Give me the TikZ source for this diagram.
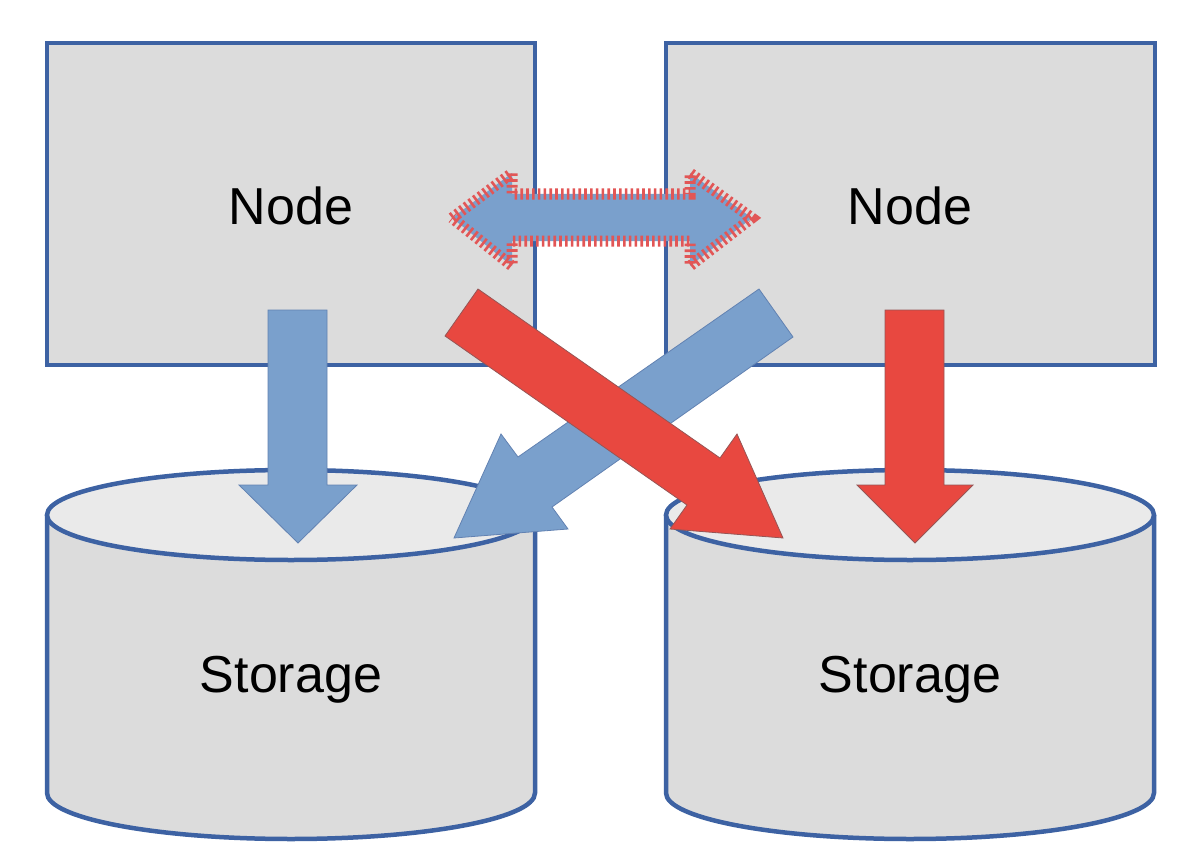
\documentclass[tikz,border=0pt]{standalone}
\usepackage{fontspec}
\setmainfont{Liberation Sans}
\definecolor{edgeblue}{RGB}{61,98,163}
\definecolor{boxgray}{RGB}{220,220,220}
\definecolor{topgray}{RGB}{234,234,234}
\definecolor{arrblue}{RGB}{122,160,204}
\definecolor{arrblueline}{RGB}{98,130,178}
\definecolor{arrred}{RGB}{232,72,64}
\definecolor{arrredline}{RGB}{150,85,85}
\definecolor{hatchred}{RGB}{226,86,86}
\tikzset{
  box/.style={draw=edgeblue, fill=boxgray, line width=4.5pt},
  lbl/.style={font=\fontsize{52}{60}\selectfont, text=black},
  bluearrow/.style={fill=arrblue, draw=arrblueline, line width=0.8pt, line join=miter},
  redarrow/.style={fill=arrred, draw=arrredline, line width=0.8pt, line join=miter},
}
\newcommand{\cylinder}[2]{%
  % #1 = center x, #2 = name
  \fill[boxgray] (#1-244,515) -- (#1-244,793) arc[start angle=180,end angle=0,x radius=244,y radius=46] -- (#1+244,515) -- cycle;
  \draw[edgeblue, line width=4.5pt] (#1-244,515) -- (#1-244,793) arc[start angle=180,end angle=0,x radius=244,y radius=46] -- (#1+244,515);
  \draw[edgeblue, fill=topgray, line width=4.5pt] (#1,515) ellipse[x radius=244, y radius=45];
  \node[lbl] (#2) at (#1,680) {Storage};
}
\begin{document}
\begin{tikzpicture}[x=1pt,y=-1pt]
\useasboundingbox (0,0) rectangle (1200,864);
\fill[white] (0,0) rectangle (1200,864);

% node boxes
\draw[box] (47,43) rectangle (535,365);
\node[lbl] (nodeL) at (291,206) {Node};
\draw[box] (666,43) rectangle (1155,365);
\node[lbl] (nodeR) at (910,206) {Node};

% storage cylinders
\cylinder{291}{storL}
\cylinder{910}{storR}

% straight down arrows
\draw[bluearrow] (268,310) -- (327,310) -- (327,485) -- (357,485) -- (298,543) -- (239,485) -- (268,485) -- cycle;
\draw[redarrow] (885,310) -- (944,310) -- (944,485) -- (973,485) -- (915,543) -- (857,485) -- (885,485) -- cycle;

% diagonal arrows
\draw[bluearrow] (759,289) -- (518,457) -- (501,434) -- (454,538) -- (568,529) -- (552,507) -- (793,337) -- cycle;
\draw[redarrow] (478,289) -- (720,458) -- (737,434) -- (783,538) -- (670,529) -- (687,505) -- (445,336) -- cycle;

% double arrow with hatched red outline
\fill[arrblue] (452,218) -- (512,173) -- (512,194) -- (690,194) -- (690,173) -- (752,218) -- (690,266) -- (690,241) -- (512,241) -- (512,266) -- cycle;
\draw[hatchred, line width=11pt, dash pattern=on 2.6pt off 3.2pt, line join=miter] (452,218) -- (512,173) -- (512,194) -- (690,194) -- (690,173) -- (752,218) -- (690,266) -- (690,241) -- (512,241) -- (512,266) -- cycle;
\end{tikzpicture}
\end{document}
